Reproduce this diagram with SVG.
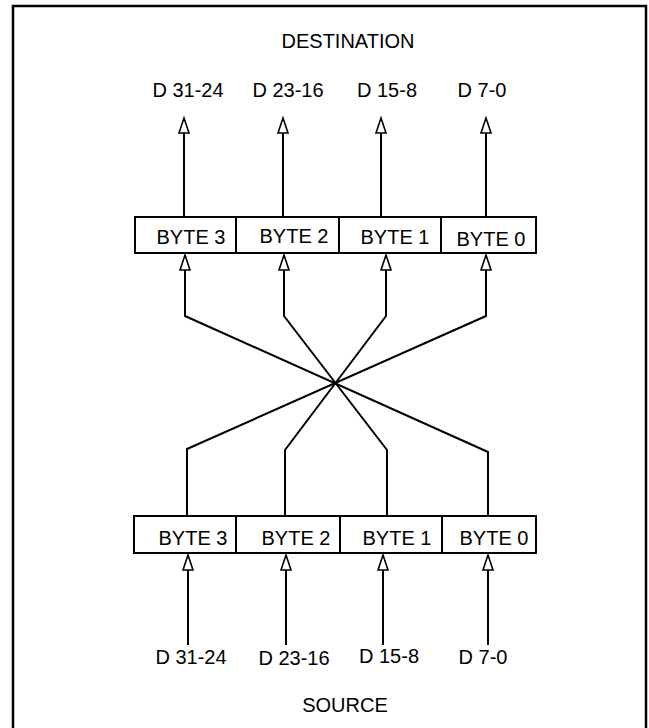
<svg xmlns="http://www.w3.org/2000/svg" width="649" height="728" viewBox="0 0 649 728">
<style>
text{font-family:"Liberation Sans",Arial,sans-serif;font-size:20px;fill:#000;text-anchor:middle}
.box{fill:#fff;stroke:#000;stroke-width:2}
.ln{fill:none;stroke:#000;stroke-width:2;stroke-linejoin:miter}
.ar{marker-end:url(#arr)}
</style>
<defs>
<marker id="arr" markerUnits="userSpaceOnUse" viewBox="-1 -1 18 13" markerWidth="18" markerHeight="13" refX="0" refY="5.5" orient="auto">
<path d="M0,0.5 L15,5.5 L0,10.5 Z" fill="#fff" stroke="#000" stroke-width="1.6"/>
</marker>
</defs>
<rect x="0" y="0" width="649" height="728" fill="#fff"/>
<rect x="13" y="6" width="633" height="740" fill="none" stroke="#000" stroke-width="2.5"/>
<g id="destination-label"><text x="348" y="48">DESTINATION</text></g>
<g id="dest-outputs">
<text x="188" y="97">D 31-24</text>
<text x="288" y="97">D 23-16</text>
<text x="387" y="97">D 15-8</text>
<text x="482" y="97">D 7-0</text>
</g>
<g id="dest-register">
<g id="dest-byte3"><rect class="box" x="135" y="217" width="101" height="36"/><text x="191" y="244">BYTE 3</text></g>
<g id="dest-byte2"><rect class="box" x="236" y="217" width="103" height="36"/><text x="294" y="243">BYTE 2</text></g>
<g id="dest-byte1"><rect class="box" x="339" y="217" width="102" height="36"/><text x="395" y="244">BYTE 1</text></g>
<g id="dest-byte0"><rect class="box" x="441" y="217" width="95" height="36"/><text x="491" y="246">BYTE 0</text></g>
</g>
<g id="src-register">
<g id="src-byte3"><rect class="box" x="134" y="516" width="102" height="37"/><text x="193" y="545">BYTE 3</text></g>
<g id="src-byte2"><rect class="box" x="236" y="516" width="104" height="37"/><text x="296" y="545">BYTE 2</text></g>
<g id="src-byte1"><rect class="box" x="340" y="516" width="102" height="37"/><text x="397" y="545">BYTE 1</text></g>
<g id="src-byte0"><rect class="box" x="442" y="516" width="94" height="37"/><text x="494" y="545">BYTE 0</text></g>
</g>
<g id="src-inputs">
<text x="191" y="664">D 31-24</text>
<text x="294" y="665">D 23-16</text>
<text x="389" y="663">D 15-8</text>
<text x="483" y="664">D 7-0</text>
</g>
<g id="source-label"><text x="345" y="712">SOURCE</text></g>
<g id="connectors">
<path class="ln ar" d="M184,217 V133"/>
<path class="ln ar" d="M283,217 V133"/>
<path class="ln ar" d="M381,217 V133"/>
<path class="ln ar" d="M486,217 V133"/>
<path class="ln ar" d="M187,516 V449 L486,316 V270"/>
<path class="ln ar" d="M285,516 V450 L386,316 V270"/>
<path class="ln ar" d="M387,516 V450 L284,316 V270"/>
<path class="ln ar" d="M488,516 V452 L185,316 V270"/>
<path class="ln ar" d="M188,645 V570"/>
<path class="ln ar" d="M286,645 V570"/>
<path class="ln ar" d="M383,645 V570"/>
<path class="ln ar" d="M488,645 V570"/>
</g>
</svg>
